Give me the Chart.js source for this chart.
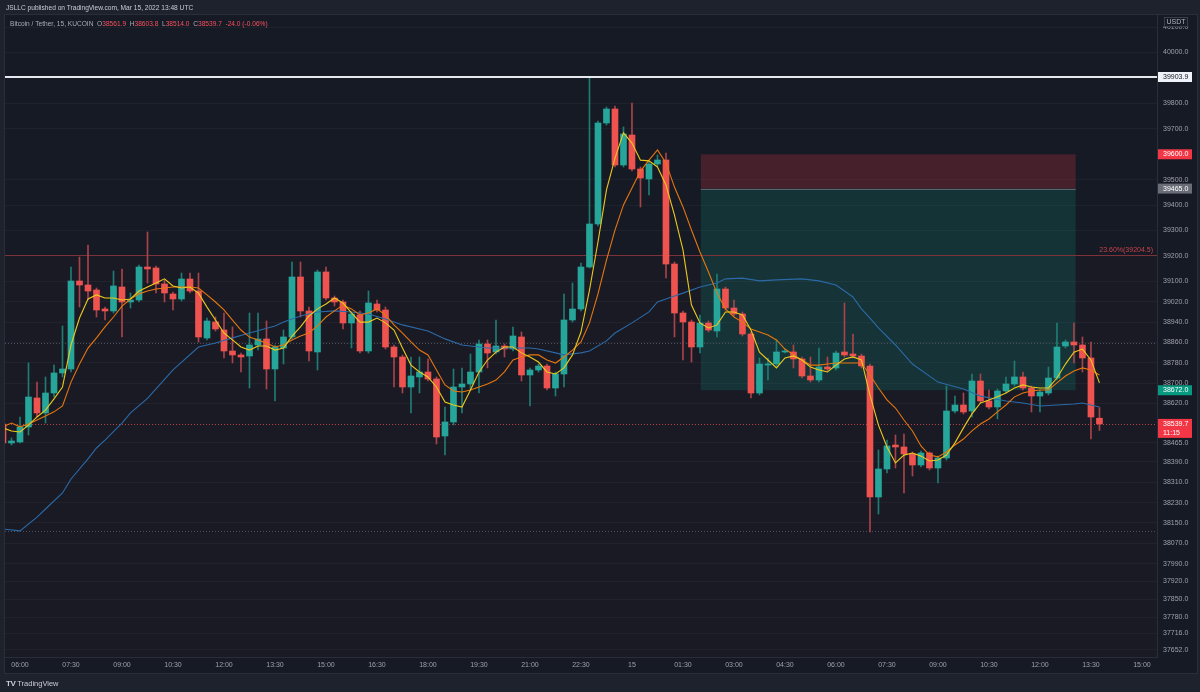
<!DOCTYPE html>
<html>
<head>
<meta charset="utf-8">
<title>BTCUSDT 15m - KUCOIN</title>
<script src="https://cdn.jsdelivr.net/npm/chart.js@4.4.1/dist/chart.umd.min.js"></script>
<style>
  html, body { margin: 0; padding: 0; background: #1e222d; }
  body { width: 1200px; height: 692px; overflow: hidden; position: relative;
         font-family: 'Liberation Sans', Arial, sans-serif; }
  #myChart { position: absolute; left: 0; top: 0; }
  .top { position: absolute; left: 6px; top: 4px; font-size: 6.6px; color: #c9ccd4; }
  .legend { position: absolute; left: 10px; top: 20px; font-size: 6.6px; color: #a9acb5; white-space: pre; }
  .legend b { font-weight: normal; color: #f7525f; }
  .brand { position: absolute; left: 6px; top: 679px; font-size: 7.5px; color: #c9ccd4; }
  .brand span { font-weight: bold; font-size: 8px; margin-right: 2px; letter-spacing: -0.5px; }
</style>
</head>
<body>
<canvas id="myChart" width="1200" height="692"></canvas>
<div class="top">JSLLC published on TradingView.com, Mar 15, 2022 13:48 UTC</div>
<div class="legend">Bitcoin / Tether, 15, KUCOIN  O<b>38561.9</b>  H<b>38603.8</b>  L<b>38514.0</b>  C<b>38539.7</b>  <b>-24.0 (-0.06%)</b></div>
<div class="brand"><span>TV</span>TradingView</div>
<script>
// 15m bars, Mar 14 05:30 -> Mar 15 13:45 UTC
const TIME_LABELS = ['06:00', '07:30', '09:00', '10:30', '12:00', '13:30', '15:00', '16:30', '18:00', '19:30', '21:00', '22:30',
  '15', '01:30', '03:00', '04:30', '06:00', '07:30', '09:00', '10:30', '12:00', '13:30', '15:00'];
const FIRST_LABEL_BAR = 2;   // 06:00 is the third bar
const BARS_PER_LABEL = 6;

const Y_TICKS = [40100, 40000, 39800, 39700, 39500, 39400, 39300, 39200, 39100, 39020, 38940, 38860, 38780, 38700,
  38620, 38465, 38390, 38310, 38230, 38150, 38070, 37990, 37920, 37850, 37780, 37716, 37652];

const opens = [
  38539.3, 38464.6, 38468.5, 38527.5, 38641.6, 38582.6, 38661.2, 38739.9, 38755.6, 39101.7,
  39085.9, 39066.3, 38991.6, 38983.7, 39078.1, 39019.1, 39027.0, 39156.7, 39152.8, 39089.9,
  39050.5, 39030.9, 39109.5, 39062.3, 38877.5, 38940.4, 38909.0, 38826.4, 38810.7, 38806.7,
  38850.0, 38873.6, 38755.6, 38838.2, 38881.5, 39117.4, 38983.7, 38822.5, 39137.1, 39034.8,
  39019.1, 38936.5, 38968.0, 38826.4, 39011.2, 38987.6, 38842.1, 38802.8, 38684.8, 38724.2,
  38743.8, 38716.3, 38492.1, 38547.2, 38684.8, 38696.7, 38743.8, 38853.9, 38822.5, 38846.0,
  38834.3, 38881.5, 38732.0, 38751.7, 38767.4, 38680.9, 38736.0, 38948.3, 38991.6, 39156.7,
  39325.8, 39723.0, 39778.1, 39557.8, 39675.8, 39542.1, 39502.8, 39561.8, 39577.5, 39168.5,
  38975.8, 38940.4, 38842.1, 38936.5, 38905.0, 39070.2, 38995.5, 38971.9, 38893.3, 38661.2,
  38771.3, 38775.3, 38822.5, 38822.5, 38795.0, 38728.1, 38712.4, 38763.5, 38759.6, 38822.5,
  38814.6, 38806.7, 38767.4, 38252.2, 38362.4, 38456.7, 38448.9, 38421.3, 38378.1, 38425.3,
  38366.3, 38405.6, 38590.4, 38614.0, 38590.4, 38708.4, 38629.8, 38606.2, 38669.1, 38696.7,
  38724.2, 38680.9, 38649.4, 38661.2, 38720.2, 38846.0, 38861.8, 38850.0, 38798.9, 38561.9
];
const highs = [
  38547.2, 38484.3, 38566.8, 38779.2, 38704.5, 38724.2, 38771.3, 38924.7, 39156.7, 39196.0,
  39243.2, 39074.1, 38999.4, 39141.0, 39148.9, 39054.5, 39164.6, 39294.4, 39160.7, 39105.6,
  39058.4, 39133.1, 39133.1, 39133.1, 38956.2, 38960.1, 38975.8, 38920.8, 38818.5, 38975.8,
  38975.8, 38944.4, 38850.0, 38909.0, 39176.4, 39176.4, 38999.4, 39144.9, 39156.7, 39042.7,
  39027.0, 38979.8, 38983.7, 39062.3, 39027.0, 38999.4, 38850.0, 38810.7, 38802.8, 38802.8,
  38795.0, 38724.2, 38606.2, 38755.6, 38759.6, 38814.6, 38869.7, 38869.7, 38948.3, 38853.9,
  38920.8, 38901.1, 38759.6, 38775.3, 38775.3, 38743.8, 39050.5, 39093.8, 39172.5, 39903.9,
  39730.9, 39785.9, 39789.9, 39707.3, 39801.7, 39550.0, 39569.6, 39597.2, 39605.0, 39176.4,
  38983.7, 38948.3, 38968.0, 38944.4, 39129.2, 39078.1, 39027.0, 38979.8, 38901.1, 38798.9,
  38798.9, 38869.7, 38834.3, 38850.0, 38802.8, 38802.8, 38838.2, 38802.8, 38826.4, 39015.2,
  38893.3, 38814.6, 38775.3, 38437.1, 38476.4, 38496.1, 38500.0, 38429.2, 38433.1, 38429.2,
  38413.5, 38688.8, 38649.4, 38661.2, 38736.0, 38736.0, 38673.0, 38677.0, 38724.2, 38787.1,
  38743.8, 38688.8, 38673.0, 38763.5, 38936.5, 38869.7, 38936.5, 38881.5, 38861.8, 38603.8
];
const lows = [
  38456.7, 38456.7, 38464.6, 38496.1, 38566.8, 38543.3, 38645.5, 38724.2, 38743.8, 38999.4,
  39027.0, 38960.1, 38948.3, 38975.8, 38881.5, 38995.5, 39019.1, 39093.8, 39054.5, 39019.1,
  38987.6, 39023.0, 39054.5, 38861.8, 38869.7, 38905.0, 38798.9, 38779.2, 38743.8, 38680.9,
  38830.3, 38677.0, 38629.8, 38775.3, 38873.6, 38960.1, 38787.1, 38751.7, 39027.0, 39003.4,
  38912.9, 38838.2, 38818.5, 38818.5, 38979.8, 38834.3, 38684.8, 38661.2, 38582.6, 38661.2,
  38708.4, 38460.7, 38417.4, 38535.4, 38582.6, 38673.0, 38661.2, 38759.6, 38814.6, 38802.8,
  38826.4, 38708.4, 38610.1, 38743.8, 38673.0, 38649.4, 38684.8, 38940.4, 38983.7, 39152.8,
  39318.0, 39715.1, 39550.0, 39550.0, 39534.3, 39392.7, 39439.9, 39553.9, 39113.5, 38881.5,
  38791.0, 38783.1, 38818.5, 38901.1, 38881.5, 38987.6, 38964.0, 38885.4, 38641.6, 38653.4,
  38712.4, 38767.4, 38818.5, 38759.6, 38720.2, 38704.5, 38704.5, 38747.8, 38751.7, 38802.8,
  38798.9, 38759.6, 38114.6, 38185.4, 38346.6, 38366.3, 38268.0, 38334.8, 38370.3, 38358.4,
  38307.3, 38397.7, 38582.6, 38578.6, 38566.8, 38621.9, 38598.3, 38559.0, 38661.2, 38688.8,
  38673.0, 38586.5, 38586.5, 38653.4, 38712.4, 38838.2, 38779.2, 38743.8, 38480.3, 38514.0
];
const closes = [
  38464.6, 38472.5, 38527.5, 38645.5, 38582.6, 38661.2, 38739.9, 38755.6, 39101.7, 39085.9,
  39062.3, 38987.6, 38983.7, 39082.0, 39019.1, 39027.0, 39156.7, 39148.9, 39089.9, 39054.5,
  39030.9, 39109.5, 39062.3, 38881.5, 38944.4, 38912.9, 38826.4, 38810.7, 38802.8, 38850.0,
  38873.6, 38755.6, 38842.1, 38881.5, 39117.4, 38983.7, 38826.4, 39137.1, 39034.8, 39019.1,
  38936.5, 38971.9, 38826.4, 39015.2, 38987.6, 38842.1, 38802.8, 38684.8, 38728.1, 38743.8,
  38716.3, 38488.2, 38547.2, 38684.8, 38696.7, 38743.8, 38853.9, 38818.5, 38846.0, 38834.3,
  38885.4, 38732.0, 38751.7, 38767.4, 38680.9, 38736.0, 38948.3, 38991.6, 39156.7, 39325.8,
  39723.0, 39778.1, 39557.8, 39679.7, 39542.1, 39506.7, 39561.8, 39577.5, 39168.5, 38975.8,
  38940.4, 38842.1, 38936.5, 38909.0, 39070.2, 38995.5, 38971.9, 38893.3, 38661.2, 38775.3,
  38775.3, 38822.5, 38826.4, 38795.0, 38728.1, 38712.4, 38763.5, 38755.6, 38818.5, 38810.7,
  38806.7, 38767.4, 38252.2, 38362.4, 38452.8, 38448.9, 38421.3, 38378.1, 38425.3, 38366.3,
  38405.6, 38590.4, 38614.0, 38586.5, 38708.4, 38629.8, 38606.2, 38669.1, 38696.7, 38724.2,
  38680.9, 38649.4, 38665.1, 38720.2, 38842.1, 38861.8, 38850.0, 38798.9, 38566.8, 38539.7
];

// moving averages as drawn on the chart (yellow fast, orange mid, blue slow)
const fastMA = [
  38524, 38512, 38508, 38535, 38567, 38594, 38638, 38685, 38850, 38956,
  39031, 39047, 39035, 39035, 39027, 39031, 39062, 39078, 39094, 39110,
  39082, 39074, 39078, 39054, 38999, 38948, 38897, 38870, 38842, 38830,
  38846, 38846, 38830, 38838, 38885, 38921, 38964, 38992, 39011, 39035,
  39015, 38976, 38940, 38940, 38956, 38937, 38909, 38838, 38771, 38744,
  38724, 38685, 38626, 38614, 38606, 38673, 38744, 38791, 38822, 38842,
  38842, 38819, 38803, 38783, 38744, 38736, 38760, 38811, 38901, 39066,
  39255, 39460, 39585, 39684, 39644, 39577, 39574, 39550, 39479, 39361,
  39224, 39007, 38937, 38917, 38929, 38980, 38980, 38968, 38909, 38822,
  38791, 38760, 38799, 38807, 38791, 38763, 38752, 38744, 38771, 38795,
  38803, 38791, 38653, 38535, 38449, 38386, 38417, 38425, 38413, 38394,
  38398, 38417, 38465, 38524, 38579, 38622, 38634, 38646, 38661, 38681,
  38693, 38685, 38681, 38681, 38720, 38775, 38822, 38834, 38791, 38701
];
const midMA = [
  38528, 38543, 38528, 38539, 38555, 38571, 38587, 38610, 38704, 38775,
  38838, 38878, 38921, 38960, 39003, 39031, 39051, 39062, 39070, 39074,
  39078, 39078, 39078, 39074, 39047, 39019, 38988, 38948, 38909, 38881,
  38870, 38858, 38842, 38850, 38870, 38885, 38897, 38925, 38960, 38984,
  39007, 38992, 38968, 38976, 38992, 38968, 38929, 38897, 38862, 38830,
  38811, 38752, 38693, 38669, 38665, 38673, 38685, 38697, 38712, 38744,
  38791, 38803, 38811, 38811, 38791, 38779, 38803, 38830, 38862, 38937,
  39051, 39184, 39302, 39401, 39467, 39534, 39577, 39617, 39566, 39471,
  39393, 39302, 39216, 39137, 39054, 38992, 38960, 38940, 38913, 38901,
  38889, 38870, 38834, 38811, 38791, 38771, 38771, 38775, 38779, 38779,
  38779, 38779, 38732, 38681, 38634, 38602, 38555, 38512, 38453, 38417,
  38410, 38429, 38457, 38480, 38512, 38539, 38559, 38587, 38614, 38646,
  38661, 38669, 38673, 38673, 38701, 38728, 38748, 38760, 38752, 38732
];
const slowMA = [
  38126, null, 38119, null, 38173, 38205, null, 38268, 38323, null,
  38402, 38445, 38476, null, 38543, 38583, null, 38640, null, null,
  38752, null, null, 38842, null, 38858, null, 38878, null, 38897,
  null, null, 38925, 38940, null, 38964, null, 38980, null, 38984,
  null, 38980, null, 38972, null, 38952, null, 38929, null, null,
  38905, null, 38874, null, 38850, null, null, 38838, null, 38838,
  null, null, 38838, 38834, null, 38819, 38811, null, 38819, 38826,
  null, 38866, 38897, null, 38937, null, 38980, 39019, null, 39043,
  39054, null, 39078, null, 39094, 39110, null, 39113, null, 39102,
  null, 39106, null, null, 39110, null, 39102, null, 39086, null,
  39039, 38992, 38956, 38917, null, 38850, null, 38775, null, null,
  38704, null, null, 38677, null, 38649, null, null, 38630, null,
  38622, null, 38610, null, 38614, null, 38618, 38622, null, 38606
];

// drawings on the chart
const HIGH_LEVEL = 39903.9;
const FIB_LEVEL = 39204.5;
const POS_STOP = 39600.0;
const POS_ENTRY = 39465.0;
const POS_TARGET = 38672.0;
const POS_FROM = 82.1;   // bar index where the short position box starts
const POS_TO = 126.2;    // bar index where it ends
const REF_LINES = [38858, 38118];
const COUNTDOWN = '11:15';

const UP = '#26a69a', DOWN = '#ef5350';
const WICK_UP = '#1f7c73', WICK_DOWN = '#a8434a';
const YELLOW = '#ecc91c', ORANGE = '#e5760f', BLUE = '#2b6aa6';
const PANEL_BG = '#161a25', LINE = '#2a2e39', TICK = '#9da0a9';

Chart.defaults.font.family = "'Liberation Sans', Arial, sans-serif";
Chart.defaults.font.size = 7;

const bars = opens.map((_, i) => i);
const rising = bars.map(i => closes[i] >= opens[i]);
const last = bars.length - 1;

const maLine = (label, series, color, order) => ({
  type: 'line', label, order, clip: 0,
  data: series.map((v, i) => ({ x: i, y: v })),
  borderColor: color, borderWidth: 1.1, pointRadius: 0, tension: 0, spanGaps: true
});

function hline(ctx, a, yy) {
  ctx.beginPath();
  ctx.moveTo(a.left, yy);
  ctx.lineTo(a.right, yy);
  ctx.stroke();
}

function tag(ctx, a, yy, lines, bg, fg) {
  const h = lines.length * 9 + 1;
  ctx.fillStyle = bg;
  ctx.fillRect(a.right + 1, yy - 5, 34, h);
  ctx.fillStyle = fg;
  ctx.font = "7px 'Liberation Sans', Arial, sans-serif";
  ctx.textBaseline = 'middle';
  ctx.textAlign = 'left';
  lines.forEach((t, k) => ctx.fillText(t, a.right + 6, yy + k * 9));
}

const drawings = {
  id: 'drawings',
  beforeDraw(chart) {
    const { ctx } = chart;
    ctx.save();
    ctx.fillStyle = PANEL_BG;
    ctx.fillRect(5, 14, 1192, 659);
    ctx.strokeStyle = LINE;
    ctx.lineWidth = 1;
    ctx.strokeRect(4.5, 14.5, 1193, 659);
    ctx.restore();
  },
  beforeDatasetsDraw(chart) {
    const { ctx, chartArea: a, scales: { x, y } } = chart;
    ctx.save();
    ctx.beginPath();
    ctx.rect(a.left, a.top, a.width, a.height);
    ctx.clip();

    const fy = Math.round(y.getPixelForValue(FIB_LEVEL)) + 0.5;
    ctx.fillStyle = 'rgba(242,54,69,0.018)';
    ctx.fillRect(a.left, fy, a.width, a.bottom - fy);

    const x0 = x.getPixelForValue(POS_FROM), x1 = x.getPixelForValue(POS_TO);
    const ys = y.getPixelForValue(POS_STOP), ye = y.getPixelForValue(POS_ENTRY), yt = y.getPixelForValue(POS_TARGET);
    ctx.fillStyle = 'rgba(242,54,69,0.22)';
    ctx.fillRect(x0, ys, x1 - x0, ye - ys);
    ctx.fillStyle = 'rgba(8,153,129,0.2)';
    ctx.fillRect(x0, ye, x1 - x0, yt - ye);
    ctx.strokeStyle = '#5f626c';
    ctx.lineWidth = 1;
    ctx.beginPath();
    ctx.moveTo(x0, Math.round(ye) + 0.5);
    ctx.lineTo(x1, Math.round(ye) + 0.5);
    ctx.stroke();

    ctx.strokeStyle = '#7d3138';
    hline(ctx, a, fy);

    ctx.setLineDash([1, 2]);
    ctx.strokeStyle = '#4b4f5b';
    REF_LINES.forEach(v => hline(ctx, a, Math.round(y.getPixelForValue(v)) + 0.5));
    ctx.strokeStyle = 'rgba(239,83,80,0.75)';
    hline(ctx, a, Math.round(y.getPixelForValue(closes[last])) + 0.5);
    ctx.restore();
  },
  afterDatasetsDraw(chart) {
    const { ctx, chartArea: a, scales: { y } } = chart;
    ctx.save();
    ctx.strokeStyle = '#e6e8ee';
    ctx.lineWidth = 2;
    hline(ctx, a, Math.round(y.getPixelForValue(HIGH_LEVEL)));
    ctx.fillStyle = '#c8434b';
    ctx.font = "7px 'Liberation Sans', Arial, sans-serif";
    ctx.textAlign = 'right';
    ctx.textBaseline = 'bottom';
    ctx.fillText('23.60%(' + FIB_LEVEL.toFixed(1) + ')', a.right - 4, y.getPixelForValue(FIB_LEVEL) - 1);
    ctx.restore();
  },
  afterDraw(chart) {
    const { ctx, chartArea: a, scales: { y } } = chart;
    ctx.save();
    // currency badge on top of the price scale
    ctx.fillStyle = PANEL_BG;
    ctx.fillRect(a.right + 7, 17, 24, 10);
    ctx.strokeStyle = '#3a3e4a';
    ctx.strokeRect(a.right + 7.5, 17.5, 23, 9);
    ctx.fillStyle = '#b2b5be';
    ctx.font = "7px 'Liberation Sans', Arial, sans-serif";
    ctx.textAlign = 'center';
    ctx.textBaseline = 'middle';
    ctx.fillText('USDT', a.right + 19, 22.5);

    tag(ctx, a, y.getPixelForValue(HIGH_LEVEL), [HIGH_LEVEL.toFixed(1)], '#f0f3fa', '#131722');
    tag(ctx, a, y.getPixelForValue(POS_STOP), [POS_STOP.toFixed(1)], '#f23645', '#ffffff');
    tag(ctx, a, y.getPixelForValue(POS_ENTRY), [POS_ENTRY.toFixed(1)], '#6a6d78', '#ffffff');
    tag(ctx, a, y.getPixelForValue(POS_TARGET), [POS_TARGET.toFixed(1)], '#089981', '#ffffff');
    tag(ctx, a, y.getPixelForValue(closes[last]), [closes[last].toFixed(1), COUNTDOWN], '#f23645', '#ffffff');
    ctx.restore();
  }
};

new Chart(document.getElementById('myChart'), {
  type: 'bar',
  data: {
    datasets: [
      {
        label: 'wicks', order: 5, clip: 0, grouped: false, barThickness: 1,
        data: bars.map(i => ({ x: i, y: [lows[i], highs[i]] })),
        backgroundColor: bars.map(i => rising[i] ? WICK_UP : WICK_DOWN)
      },
      {
        label: 'bodies', order: 4, clip: 0, grouped: false, barThickness: 6, minBarLength: 1,
        data: bars.map(i => ({ x: i, y: [opens[i], closes[i]] })),
        backgroundColor: bars.map(i => rising[i] ? UP : DOWN)
      },
      maLine('slow', slowMA, BLUE, 3),
      maLine('mid', midMA, ORANGE, 2),
      maLine('fast', fastMA, YELLOW, 1)
    ]
  },
  options: {
    responsive: false,
    animation: false,
    devicePixelRatio: 1,
    layout: { padding: { left: 5, top: 15, right: 5, bottom: 19 } },
    plugins: { legend: { display: false }, tooltip: { enabled: false } },
    scales: {
      x: {
        type: 'linear', min: 0.235, max: 135.77, offset: false,
        grid: { display: false, drawTicks: false },
        border: { color: LINE },
        afterBuildTicks: s => { s.ticks = TIME_LABELS.map((_, k) => ({ value: FIRST_LABEL_BAR + BARS_PER_LABEL * k })); },
        afterFit: s => { s.height = 16; },
        ticks: {
          autoSkip: false, maxRotation: 0, padding: 4, color: TICK,
          callback: v => TIME_LABELS[Math.round((v - FIRST_LABEL_BAR) / BARS_PER_LABEL)]
        }
      },
      y: {
        position: 'right', min: 37623, max: 40147.7,
        grid: { color: '#1e222d', drawTicks: false },
        border: { color: LINE },
        afterBuildTicks: s => { s.ticks = Y_TICKS.map(v => ({ value: v })); },
        afterFit: s => { s.width = 38; },
        ticks: { autoSkip: false, padding: 6, color: TICK, callback: v => v.toFixed(1) }
      }
    }
  },
  plugins: [drawings]
});
</script>
</body>
</html>
